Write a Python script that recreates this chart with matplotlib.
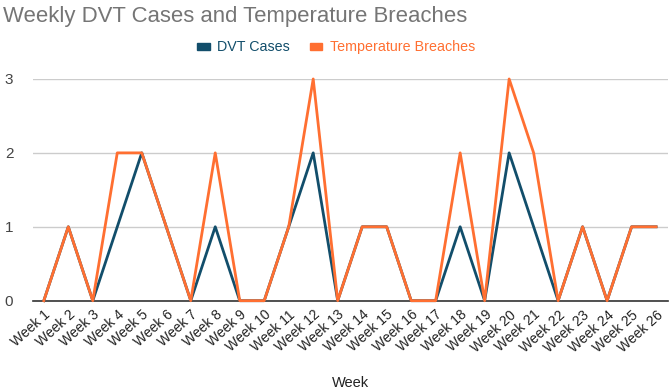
import matplotlib.pyplot as plt
from matplotlib.patches import Patch

plt.rcParams['font.family'] = ['Liberation Sans', 'DejaVu Sans']

weeks = [f"Week {i}" for i in range(1, 27)]
dvt_cases = [0, 1, 0, 1, 2, 1, 0, 1, 0, 0, 1, 2, 0, 1, 1, 0, 0, 1, 0, 2, 1, 0, 1, 0, 1, 1]
temp_breaches = [0, 1, 0, 2, 2, 1, 0, 2, 0, 0, 1, 3, 0, 1, 1, 0, 0, 2, 0, 3, 2, 0, 1, 0, 1, 1]

dvt_color = '#124e6b'
temp_color = '#ff6f31'

fig = plt.figure(figsize=(6.69, 3.89), dpi=100)
ax = fig.add_axes([0.049, 0.227, 0.95, 0.570])

x = list(range(len(weeks)))
ax.plot(x, dvt_cases, color=dvt_color, lw=2, clip_on=False, zorder=3)
ax.plot(x, temp_breaches, color=temp_color, lw=2, clip_on=False, zorder=4)

ax.set_xlim(-0.45, 25.5)
ax.set_ylim(0, 3)
ax.set_yticks([0, 1, 2, 3])
ax.set_xticks(x)
ax.set_xticklabels(weeks, rotation=42, ha='right', va='top', rotation_mode='anchor',
                   fontsize=10, color='#222222')
ax.tick_params(axis='y', labelsize=11, colors='#444444', length=0, pad=14)
ax.tick_params(axis='x', length=0, pad=5)
ax.grid(axis='y', color='#cccccc', lw=1)
ax.set_axisbelow(True)
for s in ['top', 'right', 'left']:
    ax.spines[s].set_visible(False)
ax.spines['bottom'].set_color('#333333')
ax.spines['bottom'].set_linewidth(1.2)
ax.spines['bottom'].set_zorder(2)

ax.set_xlabel('Week', fontsize=10.5, color='#222222', labelpad=15)

fig.text(0.004, 0.985, 'Weekly DVT Cases and Temperature Breaches', fontsize=15.9,
         color='#757575', ha='left', va='top')

handles = [Patch(color=dvt_color, label='DVT Cases'),
           Patch(color=temp_color, label='Temperature Breaches')]
leg = fig.legend(handles=handles, loc='center', bbox_to_anchor=(0.502, 0.878), ncol=2,
                 frameon=False, fontsize=10.3, handlelength=0.9, handleheight=0.35,
                 handletextpad=0.5, columnspacing=1.4)
for txt, c in zip(leg.get_texts(), [dvt_color, temp_color]):
    txt.set_color(c)

fig.savefig('out.png', dpi=100)
